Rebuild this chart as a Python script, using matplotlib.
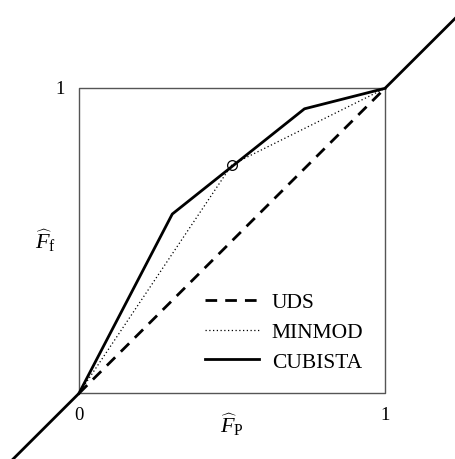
import matplotlib
matplotlib.use("Agg")
import matplotlib.pyplot as plt

plt.rcParams['font.family'] = ['Liberation Serif', 'DejaVu Serif']
plt.rcParams['mathtext.fontset'] = 'custom'
plt.rcParams['mathtext.rm'] = 'Liberation Serif'
plt.rcParams['mathtext.it'] = 'Liberation Serif:italic'
plt.rcParams['mathtext.bf'] = 'Liberation Serif:bold'

# Normalised-variable diagram: face value vs. upwind-node value
uds_x = [0.0, 1.0]
uds_y = [0.0, 1.0]
minmod_x = [0.0, 0.5, 1.0]
minmod_y = [0.0, 0.75, 1.0]
cubista_x = [0.0, 0.305, 0.737, 1.0]
cubista_y = [0.0, 0.588, 0.933, 1.0]
# outside the monotonic range all schemes revert to upwind
outer_lo_x = [-0.4, 0.0]
outer_lo_y = [-0.4, 0.0]
outer_hi_x = [1.0, 1.4]
outer_hi_y = [1.0, 1.4]
marker_pt = (0.5, 0.75)
tick_vals = [0, 1]

fig = plt.figure(figsize=(4.55, 4.60), dpi=100)
ax = fig.add_axes([0, 0, 1, 1])
ax.set_xlim(-0.258, 1.229)
ax.set_ylim(-0.215, 1.293)
ax.axis('off')

# unit box
ax.plot([0, 1, 1, 0, 0], [0, 0, 1, 1, 0], color='#555555', lw=1.0, zorder=1)

ax.plot(outer_lo_x, outer_lo_y, color='black', lw=2.0, solid_capstyle='butt', zorder=3)
ax.plot(outer_hi_x, outer_hi_y, color='black', lw=2.0, solid_capstyle='butt', zorder=3)

l1, = ax.plot(uds_x, uds_y, color='black', lw=2.0, linestyle=(0, (4.2, 2.9)), label='UDS', zorder=2)
l2, = ax.plot(minmod_x, minmod_y, color='black', lw=0.9, linestyle=(0, (1, 2)), label='MINMOD', zorder=2)
l3, = ax.plot(cubista_x, cubista_y, color='black', lw=2.0, label='CUBISTA', zorder=3)

ax.plot([marker_pt[0]], [marker_pt[1]], marker='o', ms=7, mfc='none', mec='black', mew=0.9, zorder=4)

# tick labels
ax.text(-0.045, tick_vals[1], '1', ha='right', va='center', fontsize=13.5)
ax.text(tick_vals[0], -0.04, '0', ha='center', va='top', fontsize=13.5)
ax.text(tick_vals[1], -0.04, '1', ha='center', va='top', fontsize=13.5)

# axis labels
ax.text(-0.108, 0.505, r'$\widehat{F}_{\mathrm{f}}$', ha='center', va='center', fontsize=16)
ax.text(0.5, -0.10, r'$\widehat{F}_{\mathrm{P}}$', ha='center', va='center', fontsize=16)

leg = ax.legend(handles=[l1, l2, l3], loc='lower right', bbox_to_anchor=(0.965, 0.035),
                bbox_transform=ax.transData, frameon=False, fontsize=15.5,
                handlelength=2.5, handletextpad=0.6, labelspacing=0.45,
                borderpad=0.0)

fig.savefig('out.png', dpi=100)
